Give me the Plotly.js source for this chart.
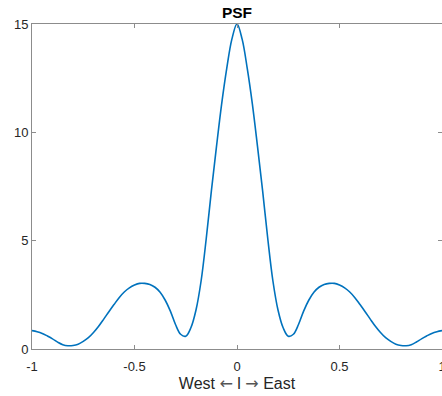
<!DOCTYPE html>
<html>
<head>
<meta charset="utf-8">
<script src="https://cdn.plot.ly/plotly-3.0.1.min.js"></script>
<style>
html,body{margin:0;padding:0;background:#fff;}
#chart{width:442px;height:396px;}
</style>
</head>
<body>
<div id="chart"></div>
<script>
// Direction cosine l (West <- l -> East), step 0.025
const lValues = [
  -1, -0.975, -0.95, -0.925, -0.9, -0.875, -0.85, -0.825, -0.8, -0.775, -0.75, -0.725, -0.7, -0.675,
  -0.65, -0.625, -0.6, -0.575, -0.55, -0.525, -0.5, -0.475, -0.45, -0.425, -0.4, -0.375, -0.35, -0.325,
  -0.3, -0.275, -0.25, -0.225, -0.2, -0.175, -0.15, -0.125, -0.1, -0.075, -0.05, -0.025,
  0,
  0.025, 0.05, 0.075, 0.1, 0.125, 0.15, 0.175, 0.2, 0.225, 0.25, 0.275, 0.3, 0.325, 0.35, 0.375,
  0.4, 0.425, 0.45, 0.475, 0.5, 0.525, 0.55, 0.575, 0.6, 0.625, 0.65, 0.675, 0.7, 0.725, 0.75,
  0.775, 0.8, 0.825, 0.85, 0.875, 0.9, 0.925, 0.95, 0.975, 1
];
// PSF amplitude
const psfValues = [
  0.85, 0.80, 0.72, 0.60, 0.47, 0.32, 0.20, 0.15, 0.16, 0.22, 0.35, 0.52, 0.76, 1.05,
  1.38, 1.72, 2.05, 2.37, 2.63, 2.82, 2.95, 3.03, 3.03, 2.98, 2.85, 2.62, 2.25, 1.75,
  1.13, 0.68, 0.59, 0.98, 1.80, 3.15, 5.10, 7.30, 9.35, 11.30, 12.95, 14.30,
  15.0,
  14.30, 12.95, 11.30, 9.35, 7.30, 5.10, 3.15, 1.80, 0.98, 0.59, 0.68, 1.13, 1.75, 2.25, 2.62,
  2.85, 2.98, 3.03, 3.03, 2.95, 2.82, 2.63, 2.37, 2.05, 1.72, 1.38, 1.05, 0.76, 0.52, 0.35,
  0.22, 0.16, 0.15, 0.20, 0.32, 0.47, 0.60, 0.72, 0.80, 0.85
];
const xTickVals = [-1, -0.5, 0, 0.5, 1];
const xTickText = ['-1', '-0.5', '0', '0.5', '1'];
const yTickVals = [0, 5, 10, 15];
const yTickText = ['0', '5', '10', '15'];

const trace = {
  x: lValues,
  y: psfValues,
  type: 'scatter',
  mode: 'lines',
  line: {color: '#0072BD', width: 1.6, shape: 'spline', smoothing: 1.0},
  hoverinfo: 'x+y'
};

const axisCommon = {
  showline: true,
  linecolor: '#8c8c8c',
  linewidth: 1,
  mirror: 'ticks',
  ticks: 'inside',
  ticklen: 4,
  tickcolor: '#8c8c8c',
  tickwidth: 1,
  showgrid: false,
  zeroline: false,
  ticklabeloverflow: 'allow',
  tickfont: {family: 'Liberation Sans, Arial, sans-serif', size: 13, color: '#262626'}
};

const layout = {
  width: 442,
  height: 396,
  margin: {l: 32, r: 0, t: 24, b: 47},
  paper_bgcolor: '#ffffff',
  plot_bgcolor: '#ffffff',
  showlegend: false,
  title: {
    text: '<b>PSF</b>',
    font: {family: 'Liberation Sans, Arial, sans-serif', size: 15.5, color: '#000000'},
    x: 0.5, xref: 'paper', xanchor: 'center',
    y: 1, yref: 'paper', yanchor: 'bottom',
    pad: {b: 6}
  },
  xaxis: Object.assign({}, axisCommon, {
    range: [-1, 1],
    tickmode: 'array',
    tickvals: xTickVals,
    ticktext: xTickText,
    ticklabelstandoff: 5,
    title: {
      text: 'West <span style="font-family:DejaVu Sans;color:#555555">\u2190</span> l <span style="font-family:DejaVu Sans;color:#555555">\u2192</span> East',
      font: {family: 'Liberation Sans, Arial, sans-serif', size: 16, color: '#262626'},
      standoff: 3
    }
  }),
  yaxis: Object.assign({}, axisCommon, {
    range: [0, 15],
    tickmode: 'array',
    tickvals: yTickVals,
    ticktext: yTickText
  })
};

Plotly.newPlot('chart', [trace], layout, {displayModeBar: false, staticPlot: true});
</script>
</body>
</html>
